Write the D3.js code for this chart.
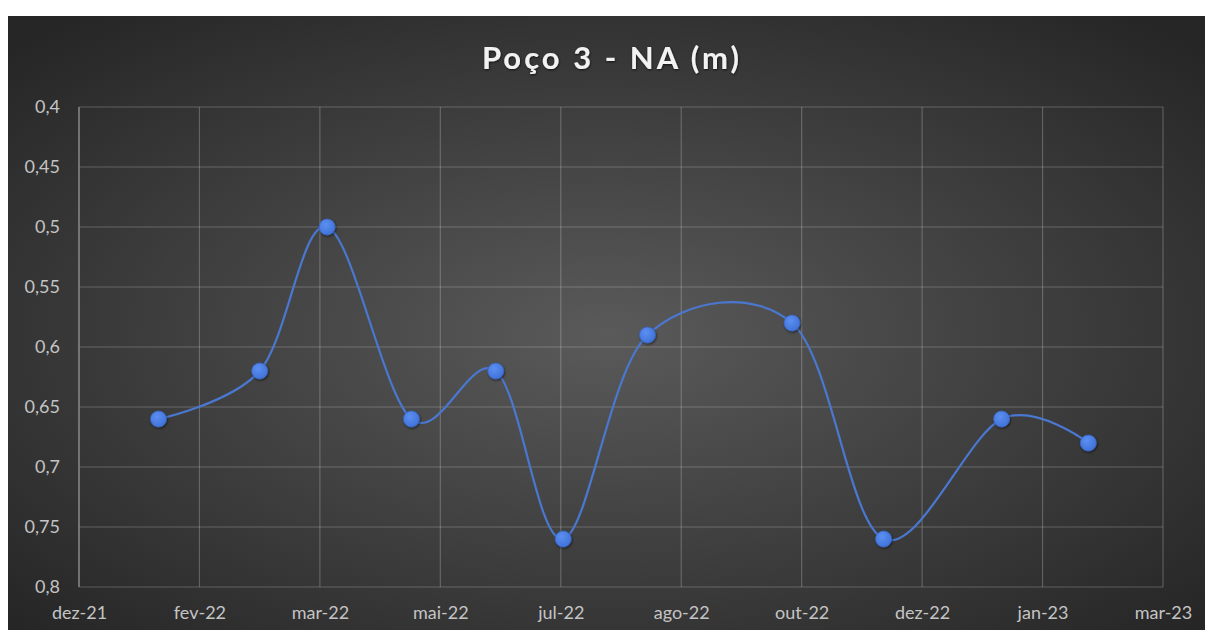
<!DOCTYPE html>
<html>
<head>
<meta charset="utf-8">
<script src="https://cdn.jsdelivr.net/npm/d3@7"></script>
<style>
  html, body { margin: 0; padding: 0; background: #ffffff; }
  svg { display: block; }
</style>
</head>
<body>
<svg id="chart" width="1205" height="630"></svg>
<script>
// Measurement dates and water level (NA, metres)
const dates = [
  "2022-01-20", "2022-03-03", "2022-03-31", "2022-05-05", "2022-06-09",
  "2022-07-07", "2022-08-11", "2022-10-10", "2022-11-17", "2023-01-05",
  "2023-02-10"
];
const levels = [0.66, 0.62, 0.50, 0.66, 0.62, 0.76, 0.59, 0.58, 0.76, 0.66, 0.68];

// Date axis: ticks every 50 days from the axis start
const tickDates = [
  "2021-12-18", "2022-02-06", "2022-03-28", "2022-05-17", "2022-07-06",
  "2022-08-25", "2022-10-14", "2022-12-03", "2023-01-22", "2023-03-13"
];
const tickLabels = [
  "dez-21", "fev-22", "mar-22", "mai-22", "jul-22",
  "ago-22", "out-22", "dez-22", "jan-23", "mar-23"
];
const yTicks = [0.4, 0.45, 0.5, 0.55, 0.6, 0.65, 0.7, 0.75, 0.8];
const title = "Poço 3 - NA (m)";

const parse = d3.utcParse("%Y-%m-%d");
const points = dates.map((d, i) => ({ date: parse(d), value: levels[i] }));
const ticks = tickDates.map(parse);

const svg = d3.select("#chart");
const defs = svg.append("defs");

// Background panel gradient
const bg = defs.append("radialGradient")
  .attr("id", "bgGrad")
  .attr("cx", "50%").attr("cy", "52%").attr("r", "68%");
bg.append("stop").attr("offset", "0%").attr("stop-color", "#5a5a5a");
bg.append("stop").attr("offset", "100%").attr("stop-color", "#262626");

// Soft shadow for markers and title
const shadow = defs.append("filter").attr("id", "shadow")
  .attr("x", "-50%").attr("y", "-50%").attr("width", "200%").attr("height", "200%");
shadow.append("feDropShadow")
  .attr("dx", 0.8).attr("dy", 1.2).attr("stdDeviation", 1.2)
  .attr("flood-color", "#000").attr("flood-opacity", 0.55);

const titleShadow = defs.append("filter").attr("id", "tshadow")
  .attr("x", "-10%").attr("y", "-30%").attr("width", "120%").attr("height", "160%");
titleShadow.append("feDropShadow")
  .attr("dx", 0.5).attr("dy", 1).attr("stdDeviation", 1.3)
  .attr("flood-color", "#000").attr("flood-opacity", 0.7);

const markerGrad = defs.append("radialGradient")
  .attr("id", "markerGrad").attr("cx", "40%").attr("cy", "35%").attr("r", "65%");
markerGrad.append("stop").attr("offset", "0%").attr("stop-color", "#5c8ff2");
markerGrad.append("stop").attr("offset", "100%").attr("stop-color", "#4173d8");

svg.append("rect")
  .attr("x", 8).attr("y", 16)
  .attr("width", 1197).attr("height", 614)
  .attr("fill", "url(#bgGrad)");

const plot = { left: 79, right: 1163, top: 107, bottom: 587 };

const x = d3.scaleUtc()
  .domain([ticks[0], ticks[ticks.length - 1]])
  .range([plot.left, plot.right]);

const y = d3.scaleLinear()
  .domain([0.4, 0.8])
  .range([plot.top, plot.bottom]);

const fmt = d3.format(",.2~f");
const ptFmt = v => fmt(v).replace(".", ",");

const gridColor = "rgba(217,217,217,0.28)";

// Horizontal gridlines
svg.append("g")
  .selectAll("line")
  .data(yTicks)
  .join("line")
  .attr("x1", plot.left).attr("x2", plot.right)
  .attr("y1", d => y(d)).attr("y2", d => y(d))
  .attr("stroke", gridColor)
  .attr("stroke-width", 1.2);

// Vertical gridlines
svg.append("g")
  .selectAll("line")
  .data(ticks.slice(1))
  .join("line")
  .attr("x1", d => x(d)).attr("x2", d => x(d))
  .attr("y1", plot.top).attr("y2", plot.bottom)
  .attr("stroke", gridColor)
  .attr("stroke-width", 1.2);

// Value axis line
svg.append("line")
  .attr("x1", plot.left).attr("x2", plot.left)
  .attr("y1", plot.top).attr("y2", plot.bottom)
  .attr("stroke", "#8a8a8a")
  .attr("stroke-width", 1.5);

const labelFont = "Lato, 'Open Sans', sans-serif";

// Y axis labels
const yAxis = d3.axisLeft(y)
  .tickValues(yTicks)
  .tickFormat(ptFmt)
  .tickSize(0)
  .tickPadding(19);
const gy = svg.append("g")
  .attr("transform", `translate(${plot.left},0)`)
  .call(yAxis);
gy.select(".domain").remove();
gy.selectAll("text")
  .attr("fill", "#c4c4c4")
  .style("font-family", labelFont)
  .style("font-size", "18px");

// X axis labels
const xAxis = d3.axisBottom(x)
  .tickValues(ticks)
  .tickFormat((d, i) => tickLabels[i])
  .tickSize(0)
  .tickPadding(19);
const gx = svg.append("g")
  .attr("transform", `translate(0,${plot.bottom})`)
  .call(xAxis);
gx.select(".domain").remove();
gx.selectAll("text")
  .attr("fill", "#c4c4c4")
  .style("font-family", labelFont)
  .style("font-size", "18px");

// Smoothed series line
const line = d3.line()
  .x(d => x(d.date))
  .y(d => y(d.value))
  .curve(d3.curveCardinal.tension(0));

svg.append("path")
  .datum(points)
  .attr("d", line)
  .attr("fill", "none")
  .attr("stroke", "#4a78d0")
  .attr("stroke-width", 2.2);

// Markers
svg.append("g")
  .selectAll("circle")
  .data(points)
  .join("circle")
  .attr("cx", d => x(d.date))
  .attr("cy", d => y(d.value))
  .attr("r", 8)
  .attr("fill", "url(#markerGrad)")
  .attr("stroke", "#3a66c0")
  .attr("stroke-width", 0.8)
  .attr("filter", "url(#shadow)");

// Title
svg.append("text")
  .attr("x", 612)
  .attr("y", 69)
  .attr("text-anchor", "middle")
  .attr("fill", "#f2f2f2")
  .attr("filter", "url(#tshadow)")
  .style("font-family", labelFont)
  .style("font-weight", "bold")
  .style("font-size", "31px")
  .style("letter-spacing", "3px")
  .text(title);
</script>
</body>
</html>
